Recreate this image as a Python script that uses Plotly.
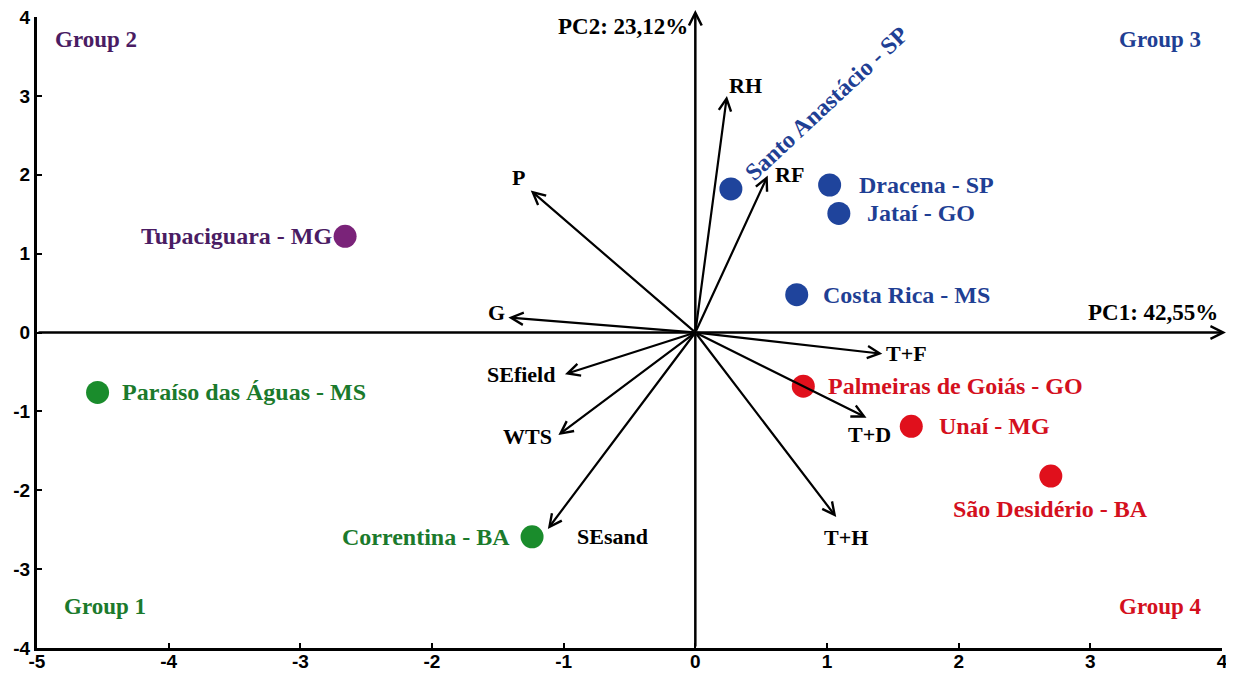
import plotly.graph_objects as go

# ---- data ----
sites = ["Tupaciguara - MG", "Paraíso das Águas - MS", "Correntina - BA",
         "Santo Anastácio - SP", "Dracena - SP", "Jataí - GO", "Costa Rica - MS",
         "Palmeiras de Goiás - GO", "Unaí - MG", "São Desidério - BA"]
site_pc1 = [-2.66, -4.54, -1.24, 0.27, 1.02, 1.09, 0.77, 0.82, 1.64, 2.70]
site_pc2 = [1.22, -0.76, -2.59, 1.82, 1.87, 1.51, 0.48, -0.68, -1.19, -1.82]
site_group = [2, 1, 1, 3, 3, 3, 3, 4, 4, 4]

variables = ["RH", "RF", "P", "G", "T+F", "SEfield", "T+D", "WTS", "SEsand", "T+H"]
var_pc1 = [0.24, 0.55, -1.25, -1.42, 1.42, -0.99, 1.30, -1.04, -1.12, 1.07]
var_pc2 = [3.00, 1.99, 1.80, 0.19, -0.27, -0.53, -1.08, -1.30, -2.49, -2.34]

groups = ["Group 1", "Group 2", "Group 3", "Group 4"]
x_ticks = [-5, -4, -3, -2, -1, 0, 1, 2, 3, 4]
y_ticks = [-4, -3, -2, -1, 0, 1, 2, 3, 4]
pc1_label = "PC1: 42,55%"
pc2_label = "PC2: 23,12%"

# ---- styles ----
text_col = {1: "#1b7a2c", 2: "#4a1c63", 3: "#1f3f94", 4: "#d4101e"}
mark_col = {1: "#1a8c2c", 2: "#7a2379", 3: "#1f449c", 4: "#e0101c"}
SERIF = "Liberation Serif, Times New Roman, serif"
SANS = "Liberation Sans Narrow, Arial Narrow, Liberation Sans, Arial, sans-serif"
FS = 24

# label placement (pixel offsets relative to point, and anchor)
site_label_pos = {
    "Tupaciguara - MG": (-11, 0, "right", 0),
    "Paraíso das Águas - MS": (22, 0, "left", 0),
    "Correntina - BA": (-20, 0, "right", 0),
    "Santo Anastácio - SP": (96, -86, "center", -43),
    "Dracena - SP": (27, 0, "left", 0),
    "Jataí - GO": (26, 0, "left", 0),
    "Costa Rica - MS": (24, 0, "left", 0),
    "Palmeiras de Goiás - GO": (23, 0, "left", 0),
    "Unaí - MG": (26, 0, "left", 0),
    "São Desidério - BA": (0, 33, "center", 0),
}
var_label_pos = {
    "RH": (19, -10), "RF": (22, -1), "P": (-12, -13), "G": (-12, -5),
    "T+F": (24, 0), "SEfield": (-44, 0), "T+D": (3, 17), "WTS": (-31, 1),
    "SEsand": (65, 8), "T+H": (10, 20),
}
group_pos = {"Group 1": (-4.48, -3.48), "Group 2": (-4.55, 3.71),
             "Group 3": (3.53, 3.71), "Group 4": (3.53, -3.48)}
group_num = {"Group 1": 1, "Group 2": 2, "Group 3": 3, "Group 4": 4}

fig = go.Figure()

for g in [1, 2, 3, 4]:
    idx = [i for i, s in enumerate(site_group) if s == g]
    fig.add_trace(go.Scatter(
        x=[site_pc1[i] for i in idx], y=[site_pc2[i] for i in idx],
        mode="markers", showlegend=False, hoverinfo="skip",
        marker=dict(size=23, color=mark_col[g], line=dict(width=0)),
    ))


def bold(s):
    return "<b>" + s + "</b>"


ann = []
# PCA axes arrows
ann.append(dict(x=4.03, y=0, ax=-5, ay=0, xref="x", yref="y", axref="x", ayref="y",
                text="", showarrow=True, arrowhead=5, arrowsize=1, arrowwidth=2.5,
                arrowcolor="black"))
ann.append(dict(x=0, y=4.09, ax=0, ay=-4, xref="x", yref="y", axref="x", ayref="y",
                text="", showarrow=True, arrowhead=5, arrowsize=1, arrowwidth=2.5,
                arrowcolor="black"))
ann.append(dict(x=3.985, y=0.07, xref="x", yref="y", text=bold(pc1_label), showarrow=False,
                xanchor="right", yanchor="bottom",
                font=dict(family=SERIF, size=FS - 1, color="black")))
ann.append(dict(x=-0.04, y=3.88, xref="x", yref="y", text=bold(pc2_label), showarrow=False,
                xanchor="right", yanchor="middle",
                font=dict(family=SERIF, size=FS - 1, color="black")))

# variable vectors
for name, vx, vy in zip(variables, var_pc1, var_pc2):
    ann.append(dict(x=vx, y=vy, ax=0, ay=0, xref="x", yref="y", axref="x", ayref="y",
                    text="", showarrow=True, arrowhead=5, arrowsize=1.1, arrowwidth=2.2,
                    arrowcolor="black", standoff=0))
    dx, dy = var_label_pos[name]
    ann.append(dict(x=vx, y=vy, xref="x", yref="y", text=bold(name), showarrow=False,
                    xshift=dx, yshift=-dy,
                    font=dict(family=SERIF, size=FS - 2, color="black")))

# site labels
for name, sx, sy, g in zip(sites, site_pc1, site_pc2, site_group):
    dx, dy, anchor, ang = site_label_pos[name]
    ann.append(dict(x=sx, y=sy, xref="x", yref="y", text=bold(name), showarrow=False,
                    xshift=dx, yshift=-dy, xanchor=anchor, textangle=ang,
                    font=dict(family=SERIF, size=FS, color=text_col[g])))

# group labels
for gname in groups:
    gx, gy = group_pos[gname]
    ann.append(dict(x=gx, y=gy, xref="x", yref="y", text=bold(gname), showarrow=False,
                    font=dict(family=SERIF, size=FS - 1, color=text_col[group_num[gname]])))

axis_common = dict(showgrid=False, zeroline=False, showline=True, linecolor="black",
                   linewidth=3, ticks="inside", ticklen=5, tickwidth=2, tickcolor="black",
                   tickfont=dict(family=SANS, size=19, color="black", weight="bold"),
                   fixedrange=True, automargin=False, ticklabeloverflow="allow")

fig.update_layout(
    width=1226, height=665,
    margin=dict(l=29, r=12, t=9, b=25, autoexpand=False),
    plot_bgcolor="white", paper_bgcolor="white",
    annotations=ann,
    xaxis=dict(range=[-5, 4], tickvals=x_ticks, ticktext=[str(v) for v in x_ticks],
               ticklabelstandoff=-6, **axis_common),
    yaxis=dict(range=[-4, 4], tickvals=y_ticks, ticktext=[str(v) for v in y_ticks],
               ticklabelstandoff=0, **axis_common),
)

fig.write_html("out.html")
